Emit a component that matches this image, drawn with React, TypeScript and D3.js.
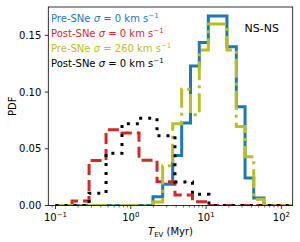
import React from "react";
import * as d3 from "d3";

// bin edges (Myr) and PDF values
const edgesPre = [0.1, 1.97, 2.65, 3.6, 4.74, 6.21, 8.12, 10.7, 14.2, 18.9, 25.2, 32.9, 42.9, 58.7, 150];
const preSigma0 = [0, 0.0078, 0.0187, 0.044, 0.0727, 0.123, 0.1436, 0.167, 0.167, 0.14, 0.087, 0.0243, 0.0066, 0];
const preSigma260 = [0, 0.003, 0.035, 0.072, 0.1025, 0.08, 0.137, 0.16, 0.16, 0.137, 0.0696, 0.043, 0.0055, 0];

const edgesPost = [0.1, 0.166, 0.279, 0.469, 0.764, 1.285, 2.23, 3.86, 6.6, 10.9, 150];
const postSigma0 = [0, 0.004, 0.0396, 0.0667, 0.064, 0.04, 0.021, 0.0093, 0.0034, 0];
const postSigma0b = [0, 0, 0.0108, 0.046, 0.072, 0.077, 0.0614, 0.0208, 0.0099, 0];

const yTicks = [0, 0.05, 0.1, 0.15];
const xTicks = [0.1, 1, 10, 100];
const xTickExp = ["\u22121", "0", "1", "2"];

const series = [
  { edges: edgesPre, values: preSigma0, color: "#1f77b4", dash: "none", label: "Pre-SNe", sigma: "0" },
  { edges: edgesPost, values: postSigma0, color: "#d62728", dash: "11,5", label: "Post-SNe", sigma: "0" },
  { edges: edgesPre, values: preSigma260, color: "#bcbd22", dash: "19,5,3,5", label: "Pre-SNe", sigma: "260" },
  { edges: edgesPost, values: postSigma0b, color: "#000000", dash: "3,6", label: "Post-SNe", sigma: "0" },
];

const W = 300, H = 242;
const margin = { left: 48.3, top: 7, right: 300 - 292.7, bottom: 242 - 205.5 };

export default function App() {
  const x = d3.scaleLog().domain([0.0802, 141.3]).range([margin.left, W - margin.right]);
  const y = d3.scaleLinear().domain([0, 0.175]).range([H - margin.bottom, margin.top]);
  const x0 = x.range()[0], x1 = x.range()[1];
  const y0 = y.range()[0], y1 = y.range()[1];

  const stepLine = d3.line<[number, number]>().x(d => x(d[0])).y(d => y(d[1]));
  const stepPoints = (edges: number[], values: number[]) => {
    const pts: [number, number][] = [[edges[0], 0]];
    values.forEach((v, i) => {
      pts.push([edges[i], v]);
      pts.push([edges[i + 1], v]);
    });
    pts.push([edges[edges.length - 1], 0]);
    return pts;
  };

  // minor ticks on the log axis
  const minor: number[] = [];
  [0.01, 0.1, 1, 10, 100].forEach(base => {
    for (let k = 2; k <= 9; k++) {
      const v = base * k;
      if (v >= 0.0802 && v <= 141.3) minor.push(v);
    }
  });

  const font = "DejaVu Sans, sans-serif";

  return (
    <svg width={W} height={H} style={{ position: "absolute", left: 0, top: 0, background: "#fff" }} fontFamily={font}>
      <defs>
        <clipPath id="plot">
          <rect x={x0} y={y1} width={x1 - x0} height={y0 - y1} />
        </clipPath>
      </defs>

      <g clipPath="url(#plot)">
        {series.map((s, i) => (
          <path
            key={i}
            d={stepLine(stepPoints(s.edges, s.values)) || ""}
            fill="none"
            stroke={s.color}
            strokeWidth={3}
            strokeDasharray={s.dash}
            strokeLinejoin="miter"
          />
        ))}
      </g>

      {/* frame */}
      <rect x={x0} y={y1} width={x1 - x0} height={y0 - y1} fill="none" stroke="#000" strokeWidth={0.8} />

      {/* y axis */}
      {yTicks.map(t => (
        <g key={t}>
          <line x1={x0 - 3.5} x2={x0} y1={y(t)} y2={y(t)} stroke="#000" strokeWidth={0.8} />
          <text x={x0 - 7} y={y(t) + 3.6} fontSize={10} textAnchor="end">{t.toFixed(2)}</text>
        </g>
      ))}
      <text transform={`translate(16,${(y0 + y1) / 2}) rotate(-90)`} fontSize={10} textAnchor="middle">PDF</text>

      {/* x axis */}
      {xTicks.map((t, i) => (
        <g key={t}>
          <line x1={x(t)} x2={x(t)} y1={y0} y2={y0 + 3.5} stroke="#000" strokeWidth={0.8} />
          <text x={x(t)} y={220.5} fontSize={10} textAnchor="middle">
            10<tspan fontSize={7} dy={-4}>{xTickExp[i]}</tspan>
          </text>
        </g>
      ))}
      {minor.map(t => (
        <line key={t} x1={x(t)} x2={x(t)} y1={y0} y2={y0 + 2} stroke="#000" strokeWidth={0.6} />
      ))}
      <text x={(x0 + x1) / 2} y={235} fontSize={10} textAnchor="middle">
        <tspan fontStyle="italic">T</tspan>
        <tspan fontSize={7} dy={2}>EV</tspan>
        <tspan dy={-2}> (Myr)</tspan>
      </text>

      {/* legend */}
      {series.map((s, i) => (
        <text key={i} x={51} y={22 + i * 15} fontSize={10} fill={s.color}>
          {s.label} <tspan fontStyle="italic">σ</tspan> = {s.sigma} km s
          <tspan fontSize={7} dy={-4}>{"\u22121"}</tspan>
        </text>
      ))}

      <text x={279} y={32.3} fontSize={11} textAnchor="end">NS-NS</text>
    </svg>
  );
}
